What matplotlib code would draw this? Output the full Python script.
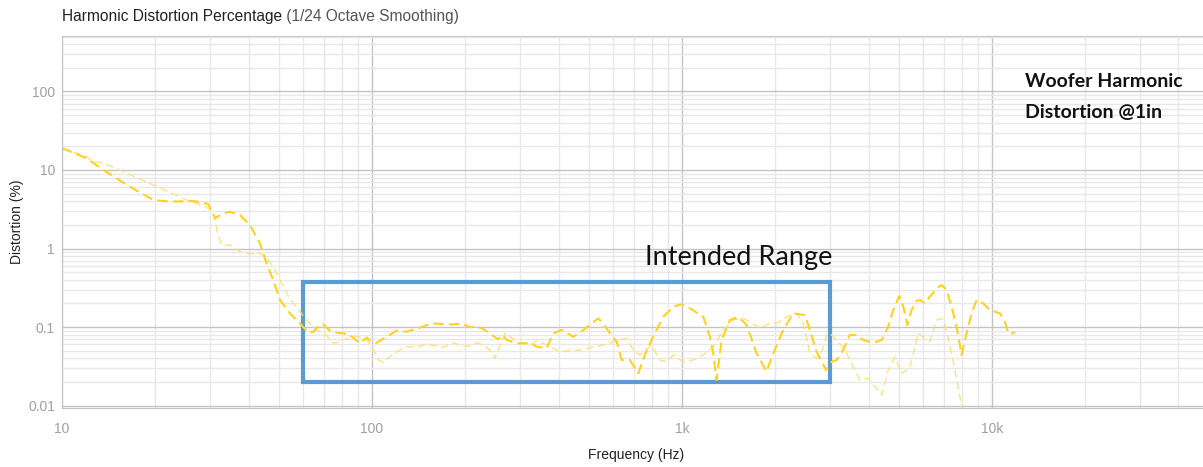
import matplotlib
matplotlib.use('Agg')
import matplotlib.pyplot as plt
from matplotlib.patches import Rectangle
from matplotlib.ticker import FixedLocator, LogLocator, NullFormatter

plt.rcParams['font.family'] = ['Liberation Sans', 'DejaVu Sans']

# curva principal (tracejado grosso)
freq_a = [10, 12.0, 13.6, 16.2, 19.7, 22.3, 26.5, 29.6, 31.2, 33.1, 34.8, 37.5, 40.4, 43.5,
          45.7, 48.0, 50.5, 54.3, 58.6, 62.4, 64.7, 67.9, 69.6, 72.3, 75.0, 80.8, 84.9, 88.1,
          91.4, 96.1, 99.8, 103.5, 111.5, 120, 129, 139, 150, 158, 170, 183, 195, 207, 218,
          229, 240, 255, 265, 272, 293, 324, 340, 366, 385, 409, 446, 481, 537, 557, 586,
          616, 639, 679, 723, 770, 818, 871, 938, 998, 1061, 1172, 1231, 1262, 1294, 1343,
          1429, 1520, 1618, 1742, 1875, 1971, 2123, 2285, 2494, 2588, 2720, 2917, 3043, 3157,
          3315, 3480, 3660, 3845, 4140, 4410, 4630, 4810, 5025, 5180, 5335, 5510, 5715, 5860,
          6080, 6310, 6635, 6885, 7145, 7415, 7695, 7985, 8285, 8600, 8930, 9380, 9860,
          10620, 11020, 11300, 11720, 11860]
dist_a = [19, 14.1, 10.0, 6.44, 4.15, 3.95, 4.03, 3.69, 2.43, 2.81, 2.94, 2.67, 1.99, 1.16,
          0.648, 0.397, 0.221, 0.150, 0.111, 0.0846, 0.0871, 0.108, 0.108, 0.0935, 0.0856,
          0.0832, 0.0791, 0.0697, 0.062, 0.0731, 0.065, 0.063, 0.0752, 0.0897, 0.0871,
          0.0944, 0.106, 0.111, 0.109, 0.108, 0.111, 0.099, 0.103, 0.0935, 0.0832, 0.0697,
          0.0791, 0.0683, 0.062, 0.062, 0.0561, 0.0536, 0.0832, 0.0916, 0.0752, 0.0916,
          0.129, 0.111, 0.0832, 0.065, 0.038, 0.038, 0.0257, 0.0509, 0.0832, 0.135, 0.182,
          0.195, 0.173, 0.135, 0.0752, 0.0462, 0.0211, 0.0683, 0.123, 0.135, 0.106, 0.0462,
          0.027, 0.0462, 0.0916, 0.149, 0.142, 0.0916, 0.0485, 0.0283, 0.0361, 0.038,
          0.0509, 0.0791, 0.0791, 0.0683, 0.063, 0.0683, 0.101, 0.165, 0.248, 0.182, 0.106,
          0.165, 0.216, 0.221, 0.2, 0.243, 0.311, 0.343, 0.296, 0.182, 0.101, 0.044, 0.0832,
          0.149, 0.221, 0.2, 0.165, 0.149, 0.117, 0.0832, 0.0832, 0.087]

# segunda curva (tracejado fino)
freq_b = [10, 12.0, 12.6, 13.6, 16.2, 19.7, 25.3, 29.3, 30.8, 31.6, 32.7, 34.8, 37.5, 40.4,
          43.5, 45.2, 48.0, 50.5, 53.1, 55.7, 58.6, 61.5, 66.3, 71.4, 74.1, 76.9, 80.8, 84.9,
          89.3, 92.6, 96.1, 101, 105, 109, 114, 123, 129, 139, 150, 162, 170, 183, 197, 207,
          218, 229, 240, 249, 259, 269, 279, 293, 308, 324, 340, 357, 375, 404, 446, 481,
          518, 557, 600, 663, 697, 732, 798, 849, 893, 938, 1009, 1087, 1172, 1262, 1360,
          1465, 1577, 1656, 1785, 1923, 2019, 2176, 2345, 2462, 2588, 2720, 2825, 2930, 3000,
          3157, 3360, 3525, 3750, 3990, 4195, 4410, 4630, 4865, 5115, 5430, 5645, 5785, 6080,
          6310, 6635, 6885, 7050, 7330, 7600, 8000]
dist_b = [19, 14.8, 12.8, 12.2, 9.08, 6.44, 4.15, 3.35, 2.81, 1.72, 1.11, 1.11, 0.91, 0.851,
          0.869, 0.802, 0.586, 0.397, 0.269, 0.2, 0.157, 0.123, 0.0916, 0.0791, 0.063, 0.063,
          0.0697, 0.0697, 0.0768, 0.0718, 0.0697, 0.0509, 0.038, 0.0351, 0.0419, 0.0509,
          0.0561, 0.0551, 0.0607, 0.0573, 0.0551, 0.063, 0.0573, 0.0573, 0.063, 0.059, 0.0509,
          0.0399, 0.059, 0.0832, 0.0752, 0.065, 0.062, 0.059, 0.0669, 0.062, 0.0561, 0.0485,
          0.0509, 0.0509, 0.0561, 0.059, 0.065, 0.0718, 0.0509, 0.044, 0.059, 0.038, 0.0361,
          0.044, 0.0361, 0.038, 0.044, 0.0561, 0.0916, 0.123, 0.129, 0.117, 0.0963, 0.111,
          0.111, 0.135, 0.149, 0.111, 0.0462, 0.0399, 0.0485, 0.0791, 0.0832, 0.0683, 0.0509,
          0.0345, 0.0211, 0.0222, 0.0174, 0.0136, 0.0283, 0.0419, 0.0257, 0.0298, 0.0561,
          0.0832, 0.0718, 0.065, 0.123, 0.129, 0.111, 0.0561, 0.0283, 0.0095]

x_ticks = [10, 100, 1000, 10000]
x_tick_labels = ['10', '100', '1k', '10k']
y_ticks = [0.01, 0.1, 1, 10, 100]
y_tick_labels = ['0.01', '0.1', '1', '10', '100']

range_f = (60, 3000)
range_d = (0.02, 0.375)

fig = plt.figure(figsize=(12.03, 4.67), dpi=100)
ax = fig.add_axes([62/1203, 1 - 408/467, 1 - 62/1203, (408 - 36)/467])

ax.plot(freq_b, dist_b, color='#FFE070', lw=0.9, linestyle=(0, (6, 3.5)))
ax.plot(freq_a, dist_a, color='#FFD21F', lw=1.5, linestyle=(0, (5, 2.5)))

ax.set_xscale('log')
ax.set_yscale('log')
ax.set_xlim(10, 48000)
ax.set_ylim(0.0093, 509)

ax.xaxis.set_major_locator(FixedLocator(x_ticks))
ax.set_xticklabels(x_tick_labels)
ax.yaxis.set_major_locator(FixedLocator(y_ticks))
ax.set_yticklabels(y_tick_labels)
for axis in (ax.xaxis, ax.yaxis):
    axis.set_minor_locator(LogLocator(base=10, subs=range(2, 10), numticks=20))
    axis.set_minor_formatter(NullFormatter())

ax.tick_params(which='both', length=0, labelsize=10, labelcolor='#a0a0a0')
ax.tick_params(axis='x', pad=10)
ax.tick_params(axis='y', pad=5)
ax.grid(True, which='major', color='#c4c4c4', lw=1)
ax.grid(True, which='minor', color='#e8e8e8', lw=1)
ax.set_axisbelow(True)

for side in ['left', 'bottom', 'top']:
    ax.spines[side].set_color('#c4c4c4')
ax.spines['right'].set_visible(False)

ax.set_xlabel('Frequency (Hz)', fontsize=10, color='#222222')
ax.set_ylabel('Distortion (%)', fontsize=10, color='#222222')
ax.xaxis.set_label_coords(0.503, -0.108)
ax.yaxis.set_label_coords(-0.033, 0.5)

ax.add_patch(Rectangle((range_f[0], range_d[0]), range_f[1] - range_f[0],
                       range_d[1] - range_d[0], fill=False, edgecolor='#5B9BD5', lw=3))

ax.text(760, 0.757, 'Intended Range', fontsize=19.5, family=['Lato', 'DejaVu Sans'],
        color='#111111', ha='left', va='center')
ax.text(12760, 85, 'Woofer Harmonic\nDistortion @1in', fontsize=14,
        family=['Lato', 'DejaVu Sans'], weight='bold', color='#111111',
        ha='left', va='center', linespacing=2.0)

# título em duas partes
t1 = fig.text(62/1203, 1 - 17/467, 'Harmonic Distortion Percentage', fontsize=11.2,
              color='#222222', va='center', ha='left')
fig.canvas.draw()
bb = t1.get_window_extent()
fig.text(bb.x1 / fig.bbox.width, 1 - 17/467, ' (1/24 Octave Smoothing)', fontsize=11.2,
         color='#555555', va='center', ha='left')

fig.savefig('out.png', dpi=100)
